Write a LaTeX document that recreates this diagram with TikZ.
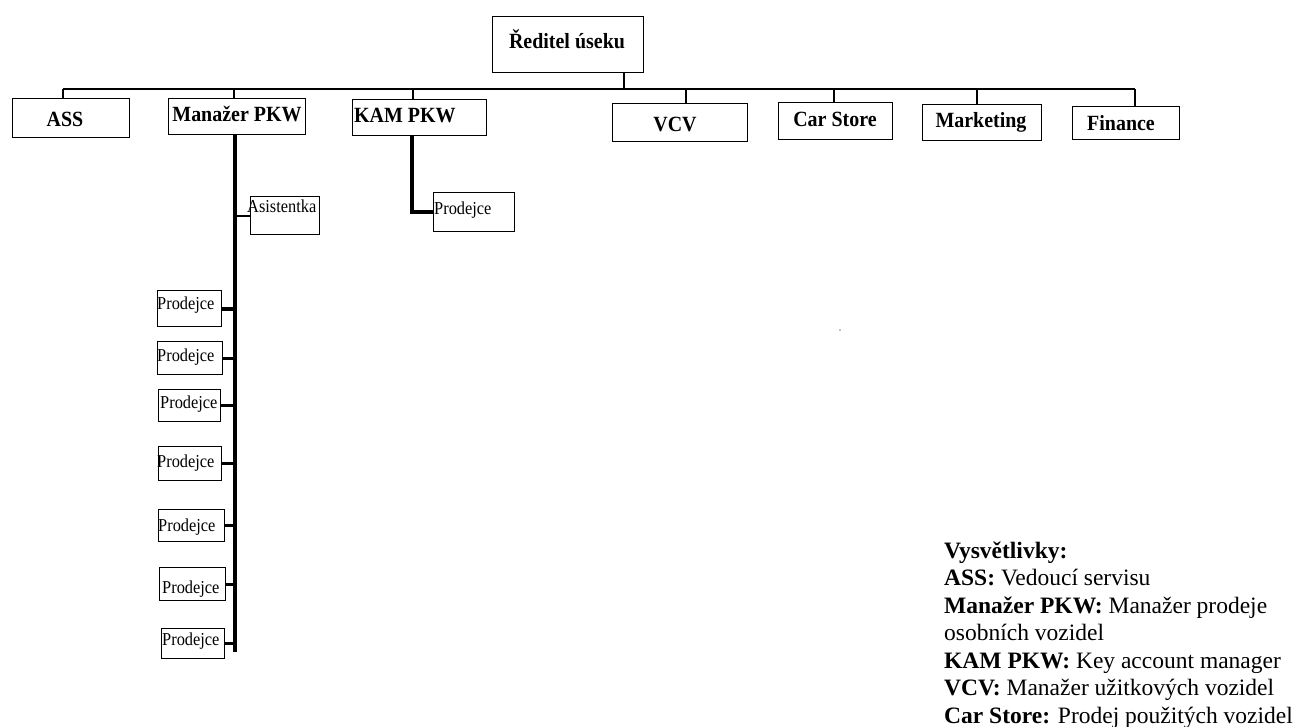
\documentclass[tikz,border=0pt]{standalone}
\usepackage{fontspec}
\setmainfont{Liberation Serif}
\newfontfamily\condtop[FakeStretch=0.92]{Liberation Serif}
\newfontfamily\condsm[FakeStretch=0.9]{Liberation Serif}
\begin{document}
\begin{tikzpicture}[x=1pt,y=-1pt,
  box/.style={draw=black,line width=1.4pt,inner sep=0pt,anchor=north west},
  toplbl/.style={anchor=base,inner sep=0pt,font=\condtop\fontsize{21.7}{24}\selectfont\bfseries},
  smlbl/.style={anchor=base west,inner sep=0pt,font=\condsm\fontsize{18.2}{20}\selectfont},
  leg/.style={anchor=base west,inner sep=0pt,font=\fontsize{23.5}{27.5}\selectfont},
  conn/.style={line width=1.3pt},
  thickconn/.style={line width=4pt},
  midconn/.style={line width=3pt}]
\useasboundingbox (0,0) rectangle (1296,727);
% boxes
\node[box,minimum width=151,minimum height=56] (boss) at (492,16) {};
\node[box,minimum width=117,minimum height=39] (ass) at (12,98) {};
\node[box,minimum width=137,minimum height=36] (mgr) at (168,98) {};
\node[box,minimum width=134,minimum height=36] (kam) at (352,99) {};
\node[box,minimum width=135,minimum height=38] (vcv) at (612,103) {};
\node[box,minimum width=114,minimum height=37] (cs) at (778,102) {};
\node[box,minimum width=119,minimum height=36] (mkt) at (922,104) {};
\node[box,minimum width=107,minimum height=33] (fin) at (1072,106) {};
\node[box,minimum width=69,minimum height=38] (asis) at (250,196) {};
\node[box,minimum width=81,minimum height=39] (kp) at (433,192) {};
\node[box,minimum width=64,minimum height=36] (p1) at (157,290) {};
\node[box,minimum width=65,minimum height=33] (p2) at (157,341) {};
\node[box,minimum width=62,minimum height=32] (p3) at (158,389) {};
\node[box,minimum width=63,minimum height=34] (p4) at (158,446) {};
\node[box,minimum width=66,minimum height=32] (p5) at (158,509) {};
\node[box,minimum width=66,minimum height=33] (p6) at (159,567) {};
\node[box,minimum width=63,minimum height=30] (p7) at (161,628) {};
% labels
\node[toplbl] (tboss) at (567,49) {Ředitel úseku};
\node[toplbl] (tass) at (65,127) {ASS};
\node[toplbl] (tmgr) at (237,122) {Manažer PKW};
\node[toplbl,anchor=base west] (tkam) at (354,123) {KAM PKW};
\node[toplbl] (tvcv) at (675,132) {VCV};
\node[toplbl] (tcs) at (835,127) {Car Store};
\node[toplbl] (tmkt) at (981,128) {Marketing};
\node[toplbl] (tfin) at (1121,131) {Finance};
\node[smlbl] (tasis) at (247,213) {Asistentka};
\node[smlbl] (tkp) at (434,215) {Prodejce};
\node[smlbl] (tp1) at (157,310) {Prodejce};
\node[smlbl] (tp2) at (157,362) {Prodejce};
\node[smlbl] (tp3) at (160,408) {Prodejce};
\node[smlbl] (tp4) at (157,467) {Prodejce};
\node[smlbl] (tp5) at (158,531) {Prodejce};
\node[smlbl] (tp6) at (162,593) {Prodejce};
\node[smlbl] (tp7) at (162,645) {Prodejce};
% coordinates
\coordinate (top) at (624,89);
\coordinate (dass) at (63,89);
\coordinate (dmgr) at (234,89);
\coordinate (dkam) at (413,89);
\coordinate (dvcv) at (686,89);
\coordinate (dcs) at (834,89);
\coordinate (dmkt) at (977,89);
\coordinate (dfin) at (1135,89);
\coordinate (mEnd) at (235,652);
\coordinate (kTurn) at (412,212);
% top connectors
\draw[conn] (top |- boss.south) -- (top);
\draw[conn] (dass) -- (dfin);
\foreach \d/\b in {dass/ass,dmgr/mgr,dkam/kam,dvcv/vcv,dcs/cs,dmkt/mkt,dfin/fin}
  \draw[conn] (\d) -- (\d |- \b.north);
% manager column
\draw[thickconn] (mEnd |- mgr.south) -- (mEnd);
\draw[line width=2.2pt] (asis.west) -- (asis.west -| mEnd);
\draw[thickconn] (p1.east) -- (p1.east -| mEnd);
\foreach \p in {p2,p3,p4,p5,p6,p7}
  \draw[midconn] (\p.east) -- (\p.east -| mEnd);
% KAM
\draw[line width=4.5pt,line join=miter] (kTurn |- kam.south) -- (kTurn) -- (kTurn -| kp.west);
% stray dot
\fill[gray] (840,330) circle (0.8);
% legend
\node[leg] (l1) at (944,558) {\textbf{Vysvětlivky:}};
\node[leg] (l2) at (944,585.5) {\textbf{ASS:} Vedoucí servisu};
\node[leg] (l3) at (944,613) {\textbf{Manažer PKW:} Manažer prodeje};
\node[leg] (l4) at (944,640.5) {osobních vozidel};
\node[leg] (l5) at (944,668) {\textbf{KAM PKW:} Key account manager};
\node[leg] (l6) at (944,695.5) {\textbf{VCV:} Manažer užitkových vozidel};
\node[leg] (l7) at (944,723) {\textbf{Car Store:} Prodej použitých vozidel};
\end{tikzpicture}
\end{document}
